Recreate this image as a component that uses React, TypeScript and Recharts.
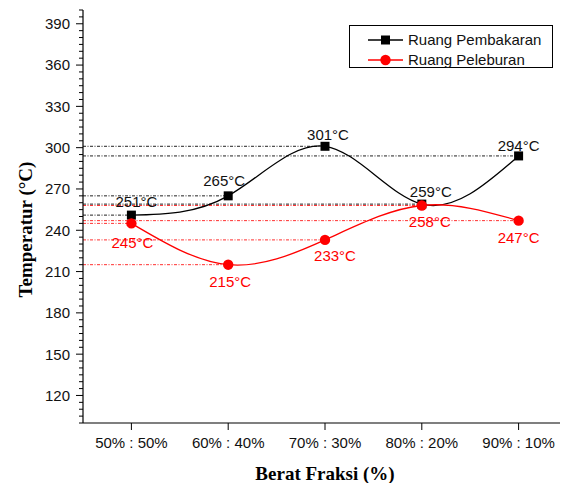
import React from 'react';
import { LineChart, Line, XAxis, YAxis, ReferenceLine, LabelList, Legend, Label } from 'recharts';

const categories = ['50% : 50%', '60% : 40%', '70% : 30%', '80% : 20%', '90% : 10%'];
const pembakaran = [251, 265, 301, 259, 294];
const peleburan = [245, 215, 233, 258, 247];
const majorTicks = [120, 150, 180, 210, 240, 270, 300, 330, 360, 390];
const yDomain: [number, number] = [100, 400];
const minorStep = 5;

const SANS = '"Liberation Sans", Arial, sans-serif';
const SERIF = '"Liberation Serif", "Times New Roman", serif';
const BLACK = '#000000';
const RED = '#ff0000';

// label nudges [dx, dy] relative to the point centre (style only)
const blackLabelNudge = [[5, -14], [-4, -15], [3, -12], [9, -13], [0, -10]];
const redLabelNudge = [[1, 19], [2, 17], [10, 16], [8, 16], [0, 17]];

const data = categories.map((c, i) => ({ x: i, cat: c, pembakaran: pembakaran[i], peleburan: peleburan[i] }));

const yTicks: number[] = [];
for (let v = yDomain[0]; v <= yDomain[1]; v += minorStep) yTicks.push(v);
const xTicks = categories.map((_, i) => i);

const LeftTick = (props: any) => {
  const { x, y, payload } = props;
  const v = payload.value;
  const major = majorTicks.includes(v) || v % 30 === 0;
  const len = major ? 7 : 4;
  return (
    <g>
      <line x1={x - len} x2={x} y1={y} y2={y} stroke={BLACK} strokeWidth={1} />
      {majorTicks.includes(v) && (
        <text x={x - 13} y={y} dy="0.36em" textAnchor="end" fontFamily={SANS} fontSize={15} fill="#111">
          {v}
        </text>
      )}
    </g>
  );
};

const RightTick = (props: any) => {
  const { x, y, payload } = props;
  const v = payload.value;
  const major = v % 30 === 0;
  const len = major ? 7 : 4;
  return <line x1={x - len} x2={x} y1={y} y2={y} stroke={BLACK} strokeWidth={1} />;
};

const BottomTick = (props: any) => {
  const { x, y, payload } = props;
  return (
    <g>
      <line x1={x} x2={x} y1={y} y2={y + 7} stroke={BLACK} strokeWidth={1} />
      <text x={x} y={y + 25} textAnchor="middle" fontFamily={SANS} fontSize={15} fill="#111">
        {categories[payload.value]}
      </text>
    </g>
  );
};

const SquareDot = (props: any) => {
  const { cx, cy, index } = props;
  if (cx == null || cy == null) return <g key={`sq-${index}`} />;
  return <rect key={`sq-${index}`} x={cx - 4.5} y={cy - 4.5} width={9} height={9} fill={BLACK} />;
};

const CircleDot = (props: any) => {
  const { cx, cy, index } = props;
  if (cx == null || cy == null) return <g key={`ci-${index}`} />;
  return <circle key={`ci-${index}`} cx={cx} cy={cy} r={5.2} fill={RED} />;
};

const makeLabel = (nudge: number[][], color: string) => (props: any) => {
  const { index, value } = props;
  const vx = props.viewBox?.x ?? props.x;
  const vy = props.viewBox?.y ?? props.y;
  const [dx, dy] = nudge[index] || [0, 0];
  return (
    <text x={vx + dx} y={vy + dy} dy="0.36em" textAnchor="middle" fontFamily={SANS} fontSize={15} fill={color}>
      {`${value}°C`}
    </text>
  );
};

const legendItems = [
  { name: 'Ruang Pembakaran', color: BLACK, shape: 'square' },
  { name: 'Ruang Peleburan', color: RED, shape: 'circle' },
];

const LegendBox = () => (
  <div
    style={{
      width: 204,
      height: 43,
      border: '1px solid #000',
      boxSizing: 'border-box',
      background: '#fff',
      position: 'relative',
      fontFamily: SANS,
      fontSize: 15,
      color: '#111',
    }}
  >
    {legendItems.map((s, i) => (
      <div
        key={s.name}
        style={{ position: 'absolute', left: 0, top: 4 + i * 20, height: 20, display: 'flex', alignItems: 'center', whiteSpace: 'nowrap' }}
      >
        <svg width={57} height={20} style={{ display: 'block' }}>
          <line x1={18} x2={53} y1={10} y2={10} stroke={s.color} strokeWidth={1.3} />
          {s.shape === 'square' ? (
            <rect x={31} y={5.5} width={9} height={9} fill={s.color} />
          ) : (
            <circle cx={35.5} cy={10} r={5.2} fill={s.color} />
          )}
        </svg>
        <span style={{ lineHeight: '20px', marginLeft: 1 }}>{s.name}</span>
      </div>
    ))}
  </div>
);

const YTitle = (props: any) => {
  const vb = props.viewBox || { x: 0, y: 0, width: 75, height: 413 };
  const x = vb.x + 24;
  const y = vb.y + vb.height / 2 + 13;
  return (
    <text
      x={x}
      y={y}
      transform={`rotate(-90, ${x}, ${y})`}
      textAnchor="middle"
      fontFamily={SERIF}
      fontWeight="bold"
      fontSize={19}
      fill="#000"
    >
      Temperatur (°C)
    </text>
  );
};

export default function App() {
  return (
    <div style={{ width: 560, height: 475 }}>
      <LineChart width={560} height={475} data={data} margin={{ top: 2, right: 0, bottom: 0, left: 0 }}>
        <XAxis
          dataKey="x"
          type="number"
          domain={[-0.5, 4.5]}
          ticks={xTicks}
          interval={0}
          height={60}
          tickSize={0}
          tickMargin={0}
          tickLine={false}
          tick={<BottomTick />}
          axisLine={{ stroke: BLACK, strokeWidth: 1.2 }}
        >
          <Label
            value="Berat Fraksi (%)"
            position="insideBottom"
            offset={3}
            style={{ fontFamily: SERIF, fontWeight: 'bold', fontSize: 19, fill: '#000' }}
          />
        </XAxis>
        <XAxis
          xAxisId="top"
          orientation="top"
          dataKey="x"
          type="number"
          domain={[-0.5, 4.5]}
          height={0}
          tick={false}
          tickLine={false}
          axisLine={{ stroke: BLACK, strokeWidth: 1.2 }}
        />
        <YAxis
          type="number"
          domain={yDomain}
          ticks={yTicks}
          interval={0}
          width={75}
          tickSize={0}
          tickMargin={0}
          tickLine={false}
          tick={<LeftTick />}
          axisLine={{ stroke: BLACK, strokeWidth: 1.2 }}
          allowDataOverflow
        >
          <Label content={<YTitle />} />
        </YAxis>
        <YAxis
          yAxisId="right"
          orientation="right"
          type="number"
          domain={yDomain}
          ticks={yTicks}
          interval={0}
          width={1}
          tickSize={0}
          tickMargin={0}
          tickLine={false}
          tick={<RightTick />}
          axisLine={{ stroke: BLACK, strokeWidth: 1.2 }}
          allowDataOverflow
        />
        {pembakaran.map((v, i) => (
          <ReferenceLine
            key={`rb-${i}`}
            segment={[{ x: -0.5, y: v }, { x: i, y: v }]}
            stroke="#222"
            strokeWidth={1}
            strokeDasharray="3 1.5 1 1.5"
          />
        ))}
        {peleburan.map((v, i) => (
          <ReferenceLine
            key={`rr-${i}`}
            segment={[{ x: -0.5, y: v }, { x: i, y: v }]}
            stroke="#ff3030"
            strokeWidth={1}
            strokeDasharray="3 1.5 1 1.5"
          />
        ))}
        <Line
          dataKey="pembakaran"
          name="Ruang Pembakaran"
          type="natural"
          stroke={BLACK}
          strokeWidth={1.3}
          dot={SquareDot}
          activeDot={false}
          isAnimationActive={false}
        >
          <LabelList dataKey="pembakaran" content={makeLabel(blackLabelNudge, '#111')} />
        </Line>
        <Line
          dataKey="peleburan"
          name="Ruang Peleburan"
          type="natural"
          stroke={RED}
          strokeWidth={1.3}
          dot={CircleDot}
          activeDot={false}
          isAnimationActive={false}
        >
          <LabelList dataKey="peleburan" content={makeLabel(redLabelNudge, RED)} />
        </Line>
        <Legend
          layout="vertical"
          align="center"
          verticalAlign="middle"
          content={<LegendBox />}
          wrapperStyle={{ position: 'absolute', left: 341, top: 17, width: 204, height: 43 }}
        />
      </LineChart>
    </div>
  );
}
